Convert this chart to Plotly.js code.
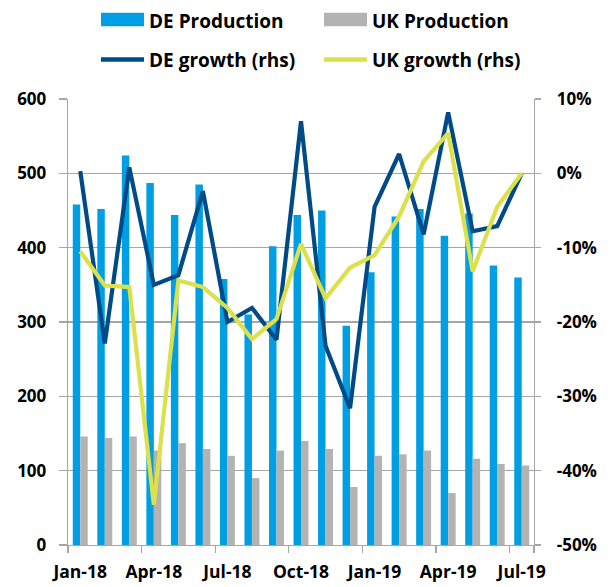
<!DOCTYPE html>
<html>
<head>
<meta charset="utf-8">
<script src="https://cdn.plot.ly/plotly-3.0.1.min.js"></script>
<style>
  html, body { margin: 0; padding: 0; background: #ffffff; }
  #chart { width: 612px; height: 587px; }
</style>
</head>
<body>
<div id="chart"></div>
<script>
// ---- data ----
const months = ["Jan-18","Feb-18","Mar-18","Apr-18","May-18","Jun-18","Jul-18","Aug-18","Sep-18","Oct-18","Nov-18","Dec-18",
                "Jan-19","Feb-19","Mar-19","Apr-19","May-19","Jun-19","Jul-19"];
const deProduction = [458, 452, 524, 487, 444, 485, 358, 310, 402, 444, 450, 295, 367, 442, 452, 416, 446, 376, 360];
const ukProduction = [146, 144, 146, 127, 137, 129, 120, 90, 127, 140, 129, 78, 120, 122, 127, 70, 116, 109, 107];
const deGrowth = [0.3, -22.9, 0.8, -15.0, -13.7, -2.4, -20.0, -18.1, -22.4, 7.0, -23.2, -31.6, -4.5, 2.6, -8.2, 8.2, -7.8, -7.1, 0.0];
const ukGrowth = [-10.5, -15.1, -15.3, -44.6, -14.4, -15.3, -18.1, -22.3, -19.6, -9.5, -16.8, -12.7, -11.0, -5.8, 1.6, 5.4, -13.2, -4.5, 0.0];
const seriesNames = ["DE Production", "UK Production", "DE growth (rhs)", "UK growth (rhs)"];
const xTickLabels = ["Jan-18","Apr-18","Jul-18","Oct-18","Jan-19","Apr-19","Jul-19"];
const lhsTicks = [0, 100, 200, 300, 400, 500, 600];
const rhsTicks = [-50, -40, -30, -20, -10, 0, 10];
const rhsTickText = ["-50%", "-40%", "-30%", "-20%", "-10%", "0%", "10%"];

// ---- styles ----
const FONT = "'Open Sans', 'Noto Sans', sans-serif";
const GRID = "#a6a6a6";
const COLORS = ["#009fe3", "#b3b3b3", "#004b87", "#dce04b"];
const W = 612, H = 587;
const M = { l: 68, r: 78, t: 99, b: 42 };
const PW = W - M.l - M.r, PH = H - M.t - M.b;
// convert page pixels to paper fractions (for the hand-drawn legend only)
const px = v => (v - M.l) / PW;
const py = v => (H - M.b - v) / PH;

const traces = [
  { type: "bar", name: seriesNames[0], x: months, y: deProduction, marker: { color: COLORS[0] } },
  { type: "bar", name: seriesNames[1], x: months, y: ukProduction, marker: { color: COLORS[1] } },
  { type: "scatter", mode: "lines", name: seriesNames[2], x: months, y: deGrowth, yaxis: "y2",
    line: { color: COLORS[2], width: 4.2 } },
  { type: "scatter", mode: "lines", name: seriesNames[3], x: months, y: ukGrowth, yaxis: "y2",
    line: { color: COLORS[3], width: 4.2 } }
];

// legend (two rows x two columns) drawn as shapes + text
const legendCols = [101, 324];
const legendRows = [19.5, 59.5];
const legendShapes = [];
const legendAnn = [];
seriesNames.forEach((nm, i) => {
  const col = legendCols[i % 2], row = legendRows[Math.floor(i / 2)];
  if (i < 2) {
    legendShapes.push({ type: "rect", xref: "paper", yref: "paper",
      x0: px(col), x1: px(col + 43), y0: py(row + 6.7), y1: py(row - 6.7),
      fillcolor: COLORS[i], line: { width: 0 } });
  } else {
    legendShapes.push({ type: "line", xref: "paper", yref: "paper",
      x0: px(col), x1: px(col + 43), y0: py(row), y1: py(row),
      line: { color: COLORS[i], width: 4.5 } });
  }
  legendAnn.push({ xref: "paper", yref: "paper", x: px(col + 46), y: py(row + 1),
    xanchor: "left", yanchor: "middle", showarrow: false, text: nm,
    font: { family: FONT, size: 19, weight: "bold", color: "#000000" } });
});

const layout = {
  width: W, height: H,
  margin: { l: M.l, r: M.r, t: M.t, b: M.b, pad: 0 },
  paper_bgcolor: "#ffffff", plot_bgcolor: "#ffffff",
  font: { family: FONT, size: 17, weight: "bold", color: "#000000" },
  barmode: "group", bargap: 0.39, bargroupgap: 0,
  showlegend: false,
  shapes: legendShapes,
  annotations: legendAnn,
  xaxis: {
    type: "category", tickmode: "array", tickvals: xTickLabels, ticktext: xTickLabels,
    tickson: "boundaries", ticks: "outside", ticklen: 7, tickcolor: GRID, tickwidth: 1.3,
    showline: true, linecolor: GRID, linewidth: 1.3, showgrid: false, zeroline: false,
    tickangle: 0,
    tickfont: { family: FONT, size: 17.5, weight: "bold", color: "#000000" },
    ticklabelstandoff: 11,
    range: [-0.5, 18.5]
  },
  yaxis: {
    range: [0, 600], tickmode: "array", tickvals: lhsTicks,
    ticks: "outside", ticklen: 8, tickcolor: GRID, tickwidth: 1.3,
    showline: true, linecolor: GRID, linewidth: 1.3,
    showgrid: true, gridcolor: GRID, gridwidth: 1.3, zeroline: false,
    tickfont: { family: FONT, size: 17, weight: "bold", color: "#000000" },
    ticklabelstandoff: 9
  },
  yaxis2: {
    overlaying: "y", side: "right", range: [-50, 10],
    tickmode: "array", tickvals: rhsTicks, ticktext: rhsTickText,
    ticks: "outside", ticklen: 6, tickcolor: GRID, tickwidth: 1.3,
    showline: true, linecolor: GRID, linewidth: 1.3,
    showgrid: false, zeroline: false,
    tickfont: { family: FONT, size: 17, weight: "bold", color: "#000000" },
    ticklabelstandoff: 12
  }
};

Plotly.newPlot("chart", traces, layout, { displayModeBar: false, staticPlot: true });
</script>
</body>
</html>
